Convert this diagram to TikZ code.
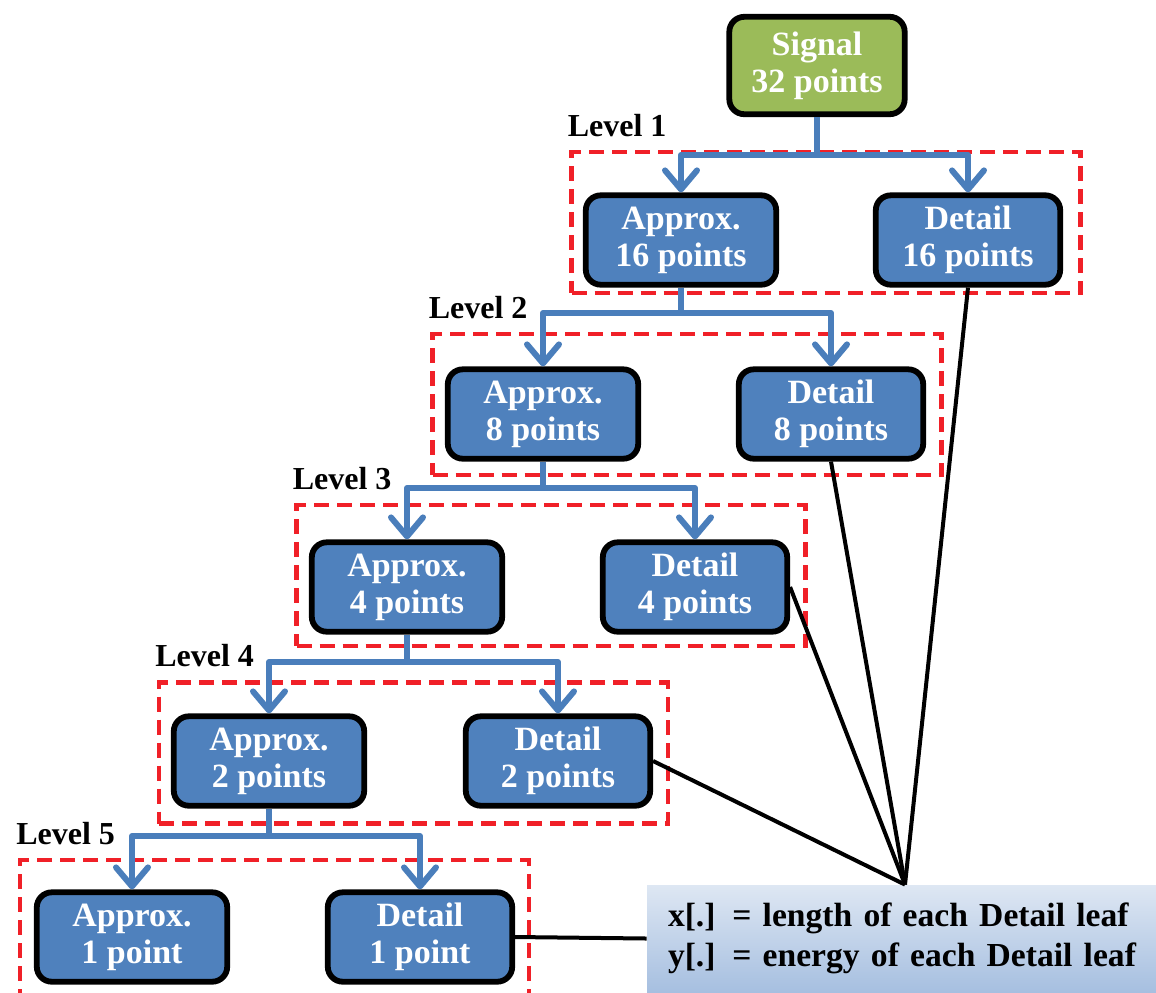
\documentclass[tikz,border=0pt]{standalone}
\usepackage{fontspec}
\setmainfont{Liberation Serif}
\usetikzlibrary{arrows.meta,positioning}
\definecolor{sigfill}{RGB}{155,187,89}
\definecolor{coeffill}{RGB}{79,129,189}
\definecolor{branchblue}{RGB}{74,126,187}
\definecolor{lvlred}{RGB}{240,32,40}
\definecolor{legtop}{RGB}{222,231,243}
\definecolor{legbot}{RGB}{166,191,224}

\begin{document}
\begin{tikzpicture}[x=0.5pt,y=-0.5pt]
\tikzstyle{coef}=[rectangle,rounded corners=7.5pt,draw=black,line width=2.9pt,fill=coeffill,text=white,font=\fontsize{17}{18.5}\selectfont\bfseries,align=center,inner sep=0pt,minimum height=44.7pt]
\tikzstyle{approx}=[coef,minimum width=95.2pt]
\tikzstyle{detail}=[coef,minimum width=92.2pt]
\tikzstyle{lvlbox}=[rectangle,draw=lvlred,line width=2.1pt,dash pattern=on 7.5pt off 4pt,minimum width=254.5pt,minimum height=70.5pt,inner sep=0pt]
\tikzstyle{lvllabel}=[inner sep=0pt,font=\fontsize{16}{18}\selectfont\bfseries]
\tikzstyle{branch}=[draw=branchblue,line width=3pt,line join=round]
\tikzstyle{leaf}=[draw=black,line width=2pt]

\clip (0,0) rectangle (1156,992);

% level frames
\node [lvlbox] (L1) at (826,222.5) {};
\node [lvlbox] (L2) at (687,404.5) {};
\node [lvlbox] (L3) at (551,575.5) {};
\node [lvlbox] (L4) at (413.5,753) {};
\node [lvlbox] (L5) at (274.5,930.5) {};

\node [lvllabel,above right=6.5pt and -1pt of L1.north west] (t1) {Level 1};
\node [lvllabel,above right=6.5pt and -1pt of L2.north west] (t2) {Level 2};
\node [lvllabel,above right=6.5pt and -1pt of L3.north west] (t3) {Level 3};
\node [lvllabel,above right=6.5pt and -1pt of L4.north west] (t4) {Level 4};
\node [lvllabel,above right=6.5pt and -1pt of L5.north west] (t5) {Level 5};

% decomposition tree
\node [coef,fill=sigfill,minimum width=87.7pt,minimum height=48.7pt] (sig) at (817,65.5) {Signal\\32 points};
\node [approx] (a1) at (681,240) {Approx.\\16 points};
\node [detail] (d1) at (968,240) {Detail\\16 points};
\node [approx] (a2) at (543,414) {Approx.\\8 points};
\node [detail] (d2) at (831,414) {Detail\\8 points};
\node [approx] (a3) at (407,587) {Approx.\\4 points};
\node [detail] (d3) at (695,587) {Detail\\4 points};
\node [approx] (a4) at (269,761) {Approx.\\2 points};
\node [detail] (d4) at (558,761) {Detail\\2 points};
\node [approx] (a5) at (132,937) {Approx.\\1 point};
\node [detail] (d5) at (420,937) {Detail\\1 point};

\node [fill=none,top color=legtop,bottom color=legbot,minimum width=258pt,minimum height=53.5pt,inner xsep=10.5pt,text width=237pt,align=left,font=\fontsize{16.8}{20}\selectfont\bfseries] (leg) at (905,938.5) {x[.] = length of each Detail leaf\\y[.] = energy of each Detail leaf};

\coordinate (b1) at (817,155);
\coordinate (b2) at (681,313);
\coordinate (b3) at (543,488);
\coordinate (b4) at (407,662);
\coordinate (b5) at (269,836);

\path [branch] (sig.south) -- (b1);
\path [branch,-{Straight Barb[length=9.5pt,width=16pt,round]}] (b1) -| (a1.north);
\path [branch,-{Straight Barb[length=9.5pt,width=16pt,round]}] (b1) -| (d1.north);
\path [branch] (a1.south) -- (b2);
\path [branch,-{Straight Barb[length=9.5pt,width=16pt,round]}] (b2) -| (a2.north);
\path [branch,-{Straight Barb[length=9.5pt,width=16pt,round]}] (b2) -| (d2.north);
\path [branch] (a2.south) -- (b3);
\path [branch,-{Straight Barb[length=9.5pt,width=16pt,round]}] (b3) -| (a3.north);
\path [branch,-{Straight Barb[length=9.5pt,width=16pt,round]}] (b3) -| (d3.north);
\path [branch] (a3.south) -- (b4);
\path [branch,-{Straight Barb[length=9.5pt,width=16pt,round]}] (b4) -| (a4.north);
\path [branch,-{Straight Barb[length=9.5pt,width=16pt,round]}] (b4) -| (d4.north);
\path [branch] (a4.south) -- (b5);
\path [branch,-{Straight Barb[length=9.5pt,width=16pt,round]}] (b5) -| (a5.north);
\path [branch,-{Straight Barb[length=9.5pt,width=16pt,round]}] (b5) -| (d5.north);

% detail leaves to the legend
\path [leaf] (d1.south) -- (leg.north);
\path [leaf] (d2.south) -- (leg.north);
\path [leaf] (d3.east) -- (leg.north);
\path [leaf] (d4.east) -- (leg.north);
\path [leaf] (d5.east) -- (leg.west);
\end{tikzpicture}
\end{document}
